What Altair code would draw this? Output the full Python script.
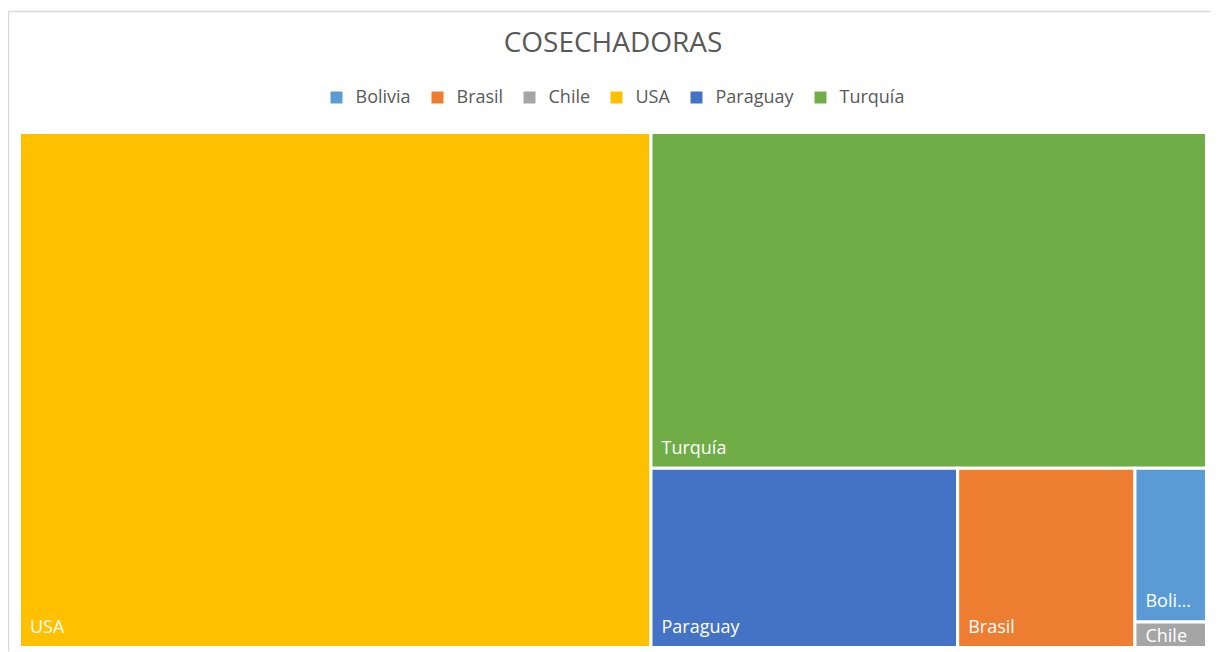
import altair as alt
import pandas as pd

# ---- data ----
countries = ["Bolivia", "Brasil", "Chile", "USA", "Paraguay", "Turquía"]
harvesters = [18, 52, 3, 532, 90, 305]
colors = ["#5B9BD5", "#ED7D31", "#A5A5A5", "#FFC000", "#4472C4", "#70AD47"]

# layout space (Excel-like squarified layout proportions)
LAYOUT_W, LAYOUT_H = 2.1, 1.0


def worst(row, side):
    s = sum(row)
    return max(max(side * side * r / (s * s), (s * s) / (side * side * r)) for r in row)


def squarify(areas, x, y, w, h, out):
    if not areas:
        return
    side = min(w, h)
    row = [areas[0]]
    i = 1
    while i < len(areas) and worst(row + [areas[i]], side) <= worst(row, side):
        row.append(areas[i])
        i += 1
    s = sum(row)
    if w >= h:
        t = s / h
        yy = y
        for a in row:
            hh = a / t
            out.append((x, yy, x + t, yy + hh))
            yy += hh
        squarify(areas[i:], x + t, y, w - t, h, out)
    else:
        t = s / w
        xx = x
        for a in row:
            ww = a / t
            out.append((xx, y, xx + ww, y + t))
            xx += ww
        squarify(areas[i:], x, y + t, w, h - t, out)


order = sorted(range(len(countries)), key=lambda i: -harvesters[i])
total = sum(harvesters)
areas = [harvesters[i] / total * LAYOUT_W * LAYOUT_H for i in order]
boxes = []
squarify(areas, 0.0, 0.0, LAYOUT_W, LAYOUT_H, boxes)

rows = []
for idx, (x0, y0, x1, y1) in zip(order, boxes):
    rows.append(dict(country=countries[idx], value=harvesters[idx],
                     x0=x0, y0=y0, x1=x1, y1=y1, small=(y1 - y0) < 0.08))
df = pd.DataFrame(rows)

FONT = "Open Sans"
GREY = "#595959"

xs = alt.Scale(domain=[0, LAYOUT_W], nice=False, zero=False)
ys = alt.Scale(domain=[0, LAYOUT_H], nice=False, zero=False, reverse=True)

base = alt.Chart(df)

rects = base.mark_rect(stroke="white", strokeWidth=3).encode(
    x=alt.X("x0:Q", scale=xs, axis=None),
    x2="x1:Q",
    y=alt.Y("y0:Q", scale=ys, axis=None),
    y2="y1:Q",
    color=alt.Color(
        "country:N",
        scale=alt.Scale(domain=countries, range=colors),
        legend=alt.Legend(
            title=None, orient="none", legendX=308, legendY=-44,
            direction="horizontal", columns=6,
            symbolType="square", symbolSize=144, symbolStrokeWidth=0,
            symbolOpacity=1, labelFont=FONT, labelFontSize=18,
            labelColor=GREY, labelOffset=10, columnPadding=17, padding=0,
        ),
    ),
    tooltip=["country:N", "value:Q"],
)

limit_expr = alt.ExprRef(expr="scale('x', datum.x1) - scale('x', datum.x0) - 22")

labels_big = base.transform_filter("!datum.small").mark_text(
    align="left", baseline="alphabetic", dx=10.5, dy=-14.5,
    color="white", font=FONT, fontSize=18, limit=limit_expr,
).encode(
    x=alt.X("x0:Q", scale=xs, axis=None),
    y=alt.Y("y1:Q", scale=ys, axis=None),
    text="country:N",
)

labels_small = base.transform_filter("datum.small").mark_text(
    align="left", baseline="alphabetic", dx=10.5, dy=20,
    color="white", font=FONT, fontSize=18, limit=limit_expr,
).encode(
    x=alt.X("x0:Q", scale=xs, axis=None),
    y=alt.Y("y0:Q", scale=ys, axis=None),
    text="country:N",
)

frame_src = alt.Chart(pd.DataFrame({"k": [0]}))
frame_top = frame_src.mark_rule(color="#D9D9D9", strokeWidth=1.5).encode(
    x=alt.value(-11), x2=alt.value(1191), y=alt.value(-121)
)
frame_left = frame_src.mark_rule(color="#D9D9D9", strokeWidth=1.5).encode(
    x=alt.value(-11), y=alt.value(-121), y2=alt.value(519)
)

chart = alt.layer(frame_top, frame_left, rects, labels_big, labels_small).properties(
    width=1187,
    height=515,
    padding={"left": 11.5, "top": 124.5, "right": 4, "bottom": 4},
    autosize=alt.AutoSizeParams(type="none"),
    title=alt.TitleParams(
        "COSECHADORAS", font=FONT, fontSize=28, fontWeight="normal",
        color=GREY, anchor="middle", offset=-47, frame="group",
    ),
    background="white",
).configure_view(stroke=None)

chart.save("out.html", embed_options={"renderer": "svg", "actions": False})
